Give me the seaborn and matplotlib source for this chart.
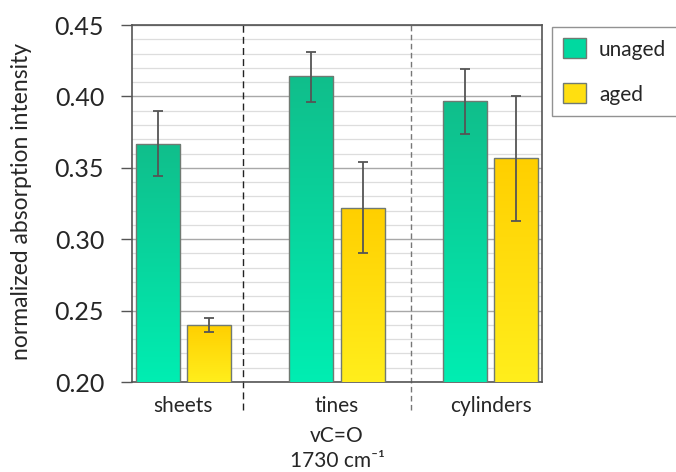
import numpy as np
import pandas as pd
import matplotlib
matplotlib.use("Agg")
import matplotlib.pyplot as plt
import seaborn as sns
from matplotlib.colors import LinearSegmentedColormap
from matplotlib.patches import Patch

categories = ["sheets", "tines", "cylinders"]
series_names = ["unaged", "aged"]
unaged_vals = [0.367, 0.414, 0.397]
aged_vals = [0.240, 0.322, 0.357]
unaged_lo = [0.344, 0.396, 0.374]
unaged_hi = [0.390, 0.431, 0.419]
aged_lo = [0.235, 0.290, 0.313]
aged_hi = [0.245, 0.354, 0.400]
y_ticks = [0.20, 0.25, 0.30, 0.35, 0.40, 0.45]
x_title = ["vC=O", "1730 cm⁻¹"]

sns.set_theme(style="white")
plt.rcParams['font.family'] = ['Lato', 'DejaVu Sans']

df = pd.DataFrame({
    "category": categories * 2,
    "series": [series_names[0]] * 3 + [series_names[1]] * 3,
    "value": unaged_vals + aged_vals,
})

fig = plt.figure(figsize=(6.76, 4.72), dpi=100)
ax = fig.add_axes([132/676, 1-382/472, 410/676, 357/472])

green_top, green_bot = "#10BE8B", "#00EEB2"
yel_top, yel_bot = "#FFCF00", "#FFEE1C"

sns.barplot(data=df, x="category", y="value", hue="series", order=categories,
            hue_order=series_names, palette=[green_bot, yel_bot],
            width=0.666, gap=0.138, errorbar=None, legend=False, ax=ax,
            edgecolor="#707a72", linewidth=1.0, zorder=3)

ax.set_ylim(0.20, 0.45)
ax.set_xlim(-0.335, 2.335)

# gradient fills
cmaps = [LinearSegmentedColormap.from_list("g", [green_bot, green_top]),
         LinearSegmentedColormap.from_list("y", [yel_bot, yel_top])]
grad = np.linspace(0, 1, 256).reshape(-1, 1)
patches = list(ax.patches)
for i, p in enumerate(patches):
    s = i // 3
    x0, y0 = p.get_x(), p.get_y()
    w, h = p.get_width(), p.get_height()
    im = ax.imshow(grad, cmap=cmaps[s], extent=[x0, x0 + w, 0.20, y0 + h],
                   origin="lower", aspect="auto", zorder=3.5, interpolation="bicubic")
    im.set_clip_path(p)
    p.set_facecolor("none")
    p.set_zorder(4)

# error bars
los = [unaged_lo, aged_lo]
his = [unaged_hi, aged_hi]
vals = [unaged_vals, aged_vals]
for i, p in enumerate(patches):
    s, c = i // 3, i % 3
    xc = p.get_x() + p.get_width() / 2
    v = vals[s][c]
    ax.errorbar([xc], [v], yerr=[[v - los[s][c]], [his[s][c] - v]], fmt="none",
                ecolor="#555555", elinewidth=1.3, capsize=3.5, capthick=1.3, zorder=5)

ax.set_aspect("auto")
ax.set_xlim(-0.335, 2.335)
ax.set_ylim(0.20, 0.45)

# grid
ax.set_yticks(y_ticks)
ax.set_yticks(np.arange(0.20, 0.4501, 0.01), minor=True)
ax.yaxis.grid(True, which="minor", color="#dddddd", linewidth=0.9, zorder=0)
ax.yaxis.grid(True, which="major", color="#a8a8a8", linewidth=1.0, zorder=0)
ax.set_axisbelow(True)
ax.set_yticklabels([f"{t:.2f}" for t in y_ticks], fontsize=18)
ax.tick_params(axis="y", which="major", direction="out", length=8, width=1.0,
               color="#555555", left=True, pad=12)
ax.tick_params(axis="y", which="minor", left=False)
ax.tick_params(axis="x", bottom=False, labelsize=15, pad=4)

for sp in ax.spines.values():
    sp.set_color("#555555")
    sp.set_linewidth(1.2)
    sp.set_visible(True)

# separators
ax.axvline(0.388, ymin=-0.078, ymax=1, color="#222222", linestyle=(0, (5, 3)),
           linewidth=1.0, clip_on=False, zorder=2)
ax.axvline(1.482, ymin=-0.078, ymax=1, color="#777777", linestyle=(0, (4, 2.5)),
           linewidth=1.0, clip_on=False, zorder=2)

ax.set_ylabel("normalized absorption intensity", fontsize=16.5)
ax.yaxis.set_label_coords(-0.244, 0.505)
ax.set_xlabel("")
fig.text(337/676, 1-436/472, x_title[0], fontsize=15, ha="center", va="center")
fig.text(337/676, 1-461/472, x_title[1], fontsize=15, ha="center", va="center")

handles = [Patch(facecolor="#00D9A0", edgecolor="#707a72"),
           Patch(facecolor="#FFDF10", edgecolor="#707a72")]
leg = fig.legend(handles, series_names, loc="upper left",
                 bbox_to_anchor=(552/676, 1-27/472), fontsize=15,
                 frameon=True, fancybox=False, edgecolor="#777777",
                 handlelength=1.1, handleheight=1.1, borderpad=0.55,
                 labelspacing=1.15, handletextpad=0.6, borderaxespad=0)
leg.get_frame().set_linewidth(1.0)

fig.savefig("out.png", dpi=100)
